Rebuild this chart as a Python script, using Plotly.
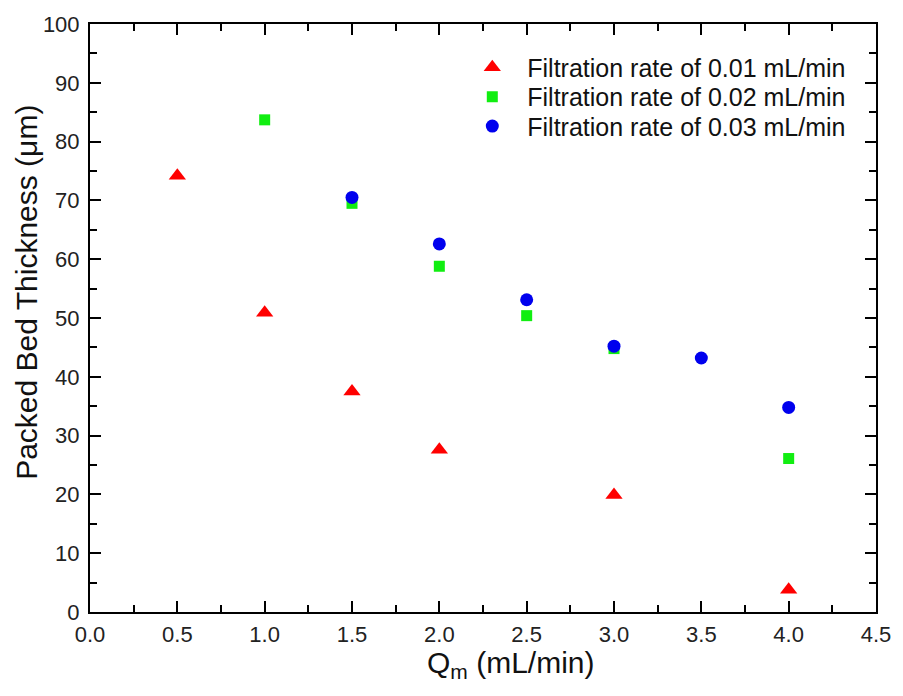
import plotly.graph_objects as go

# Packed bed thickness vs. Qm for three filtration rates
q_001 = [0.5, 1.0, 1.5, 2.0, 3.0, 4.0]
t_001 = [74.2, 50.9, 37.5, 27.6, 19.9, 3.8]

q_002 = [1.0, 1.5, 2.0, 2.5, 3.0, 4.0]
t_002 = [83.7, 69.5, 58.8, 50.4, 44.8, 26.1]

q_003 = [1.5, 2.0, 2.5, 3.0, 3.5, 4.0]
t_003 = [70.5, 62.6, 53.1, 45.2, 43.2, 34.8]

names = ["Filtration rate of 0.01 mL/min",
         "Filtration rate of 0.02 mL/min",
         "Filtration rate of 0.03 mL/min"]

x_ticks = [0.0, 0.5, 1.0, 1.5, 2.0, 2.5, 3.0, 3.5, 4.0, 4.5]
y_ticks = [0, 10, 20, 30, 40, 50, 60, 70, 80, 90, 100]

FONT = "Liberation Sans, Arial, sans-serif"

fig = go.Figure()
fig.add_trace(go.Scatter(x=q_001, y=t_001, mode="markers", name=names[0], legend="legend",
                         showlegend=True,
                         marker=dict(symbol="triangle-up", size=15, color="#ff0000")))
fig.add_trace(go.Scatter(x=q_002, y=t_002, mode="markers", name=names[1], legend="legend2",
                         showlegend=True,
                         marker=dict(symbol="square", size=11, color="#11ee11")))
fig.add_trace(go.Scatter(x=q_003, y=t_003, mode="markers", name=names[2], legend="legend3",
                         showlegend=True,
                         marker=dict(symbol="circle", size=13, color="#0000ee")))

axis_common = dict(
    showline=True, linecolor="black", linewidth=2, mirror="ticks",
    ticks="inside", ticklen=11, tickwidth=2, tickcolor="black",
    showgrid=False, zeroline=False,
    tickfont=dict(family=FONT, size=22, color="#222"),
    minor=dict(ticks="inside", ticklen=7, tickwidth=2, tickcolor="black"),
)

fig.update_xaxes(range=[0, 4.5], tickvals=x_ticks,
                 ticktext=[f"{v:.1f}" for v in x_ticks],
                 minor_dtick=0.25, ticklabelstandoff=2, **axis_common)
fig.update_yaxes(range=[0, 100], tickvals=y_ticks,
                 minor_dtick=5, ticklabelstandoff=4, **axis_common)

# axis titles
fig.add_annotation(text="Q<sub>m</sub> (mL/min)", xref="paper", yref="paper",
                   x=0.535, y=-0.0893, xanchor="center", yanchor="middle", showarrow=False,
                   font=dict(family=FONT, size=30, color="#111"))
fig.add_annotation(text="Packed Bed Thickness (\u03bcm)", xref="paper", yref="paper",
                   x=-0.0818, y=0.544, xanchor="center", yanchor="middle", showarrow=False,
                   textangle=-90, font=dict(family=FONT, size=30, color="#111"))

legend_style = dict(xanchor="left", yanchor="middle", itemwidth=60,
                    font=dict(family=FONT, size=25, color="#111"),
                    bgcolor="rgba(0,0,0,0)")
fig.update_layout(
    width=903, height=696,
    margin=dict(l=90, r=18, t=15, b=84),
    plot_bgcolor="white", paper_bgcolor="white",
    showlegend=True,
    legend=dict(x=0.4673, y=0.926, **legend_style),
    legend2=dict(x=0.4673, y=0.876, **legend_style),
    legend3=dict(x=0.4673, y=0.826, **legend_style),
)

fig.write_html("out.html")
